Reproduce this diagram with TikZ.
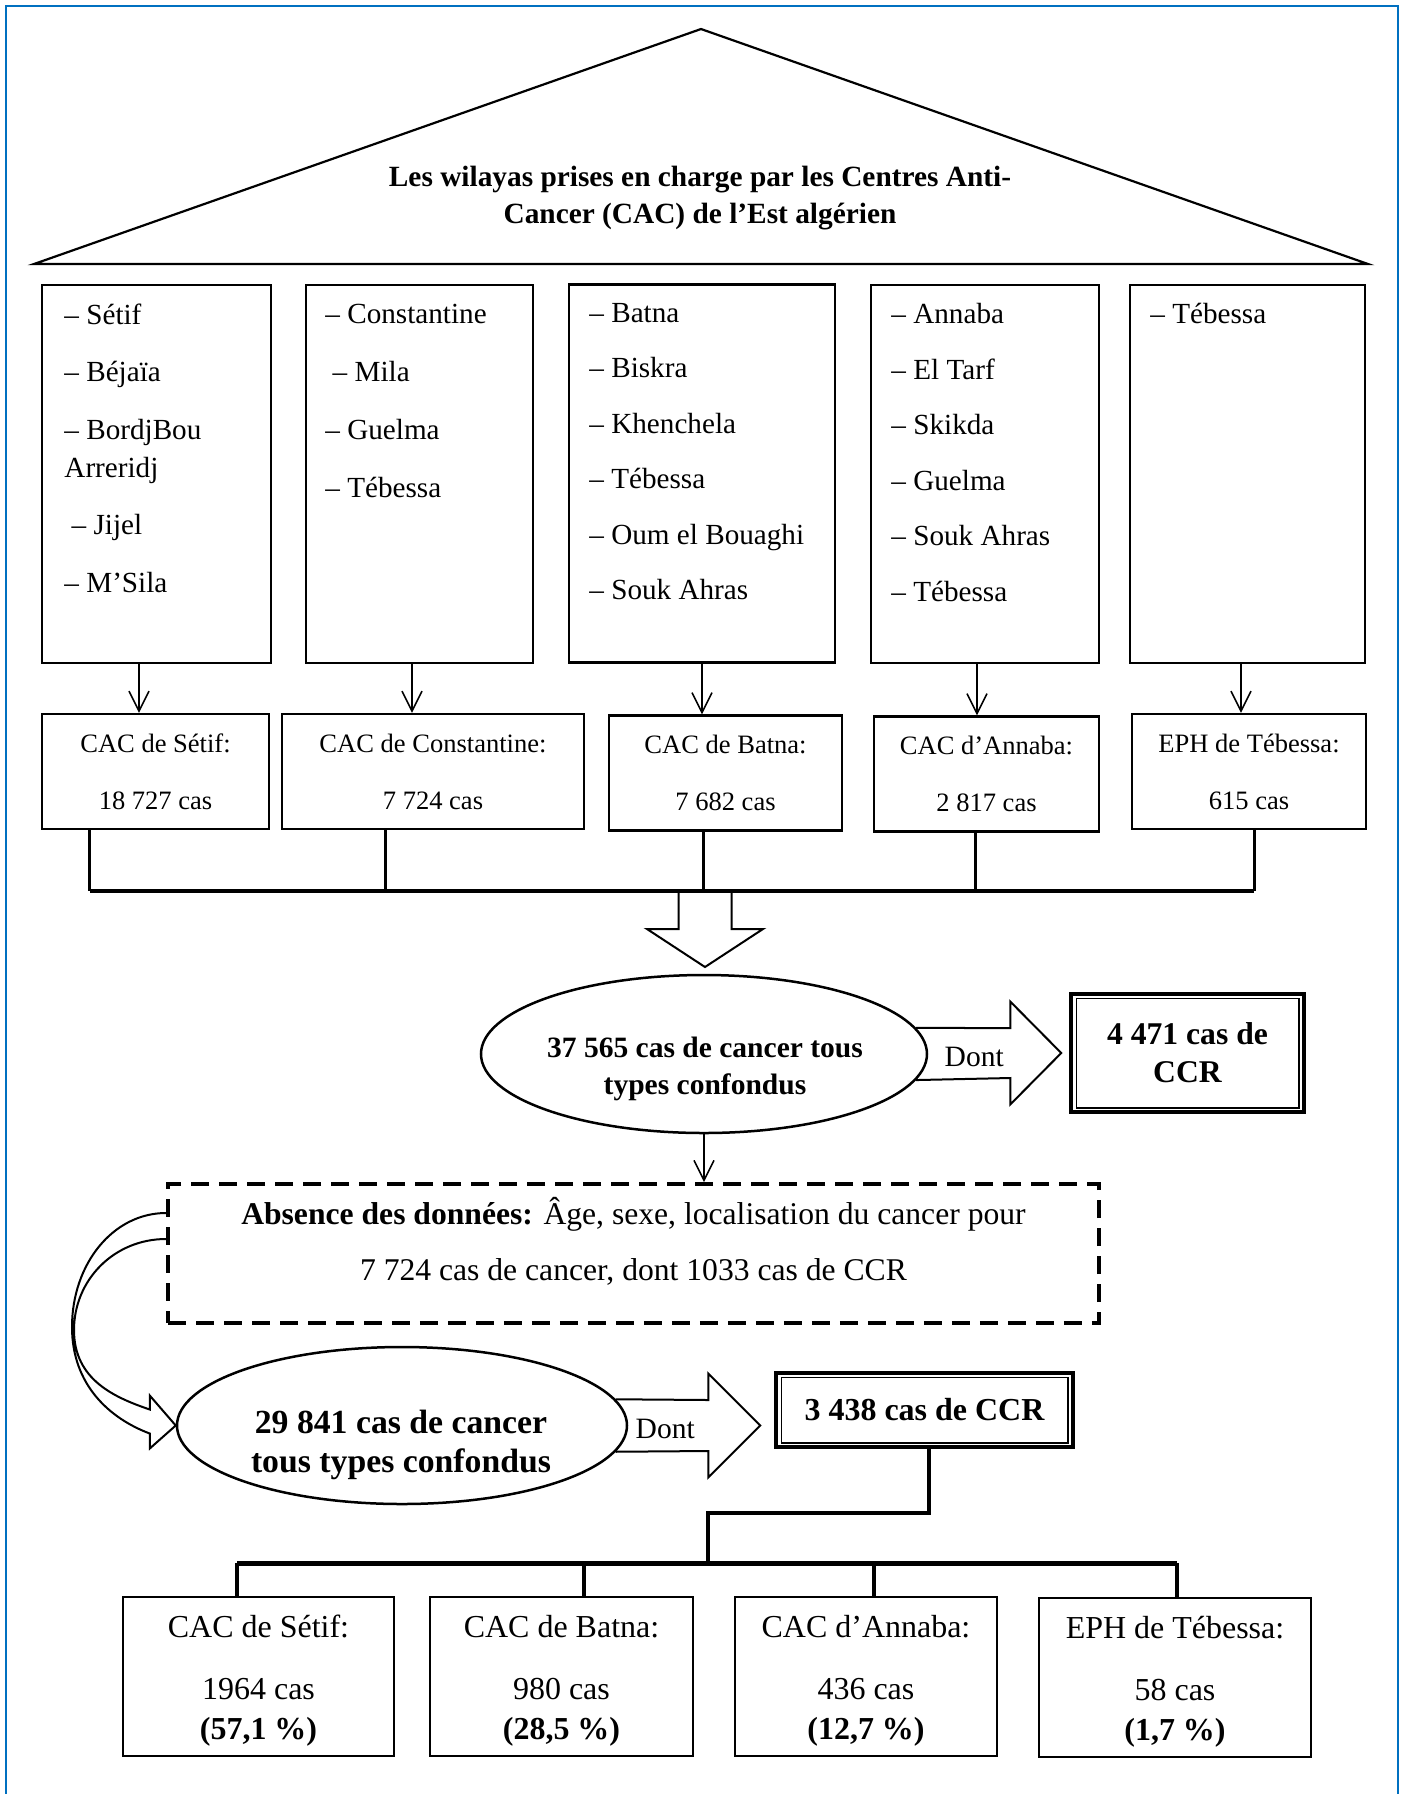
\documentclass[tikz,border=0pt]{standalone}
\usepackage{fontspec}
\setmainfont{Liberation Serif}
\usepackage{xcolor}
\usepackage{tikz}
\usetikzlibrary{positioning, calc, arrows.meta, shapes.geometric}

\definecolor{frameblue}{RGB}{0,112,192}

\begin{document}
\begin{tikzpicture}[x=1cm, y=1cm, >={Straight Barb[length=2mm, width=2mm]}]

    % Custom styles for the boxes, ovals and block arrows
    \tikzset{
        listbox/.style={draw, line width=0.025cm, minimum height=3.78cm, inner sep=0pt},
        listtxt/.style={anchor=north west, align=left, inner sep=0pt, font=\fontsize{8.3}{10.8}\selectfont},
        cacbox/.style={draw, line width=0.025cm, minimum height=1.15cm, inner sep=0pt, align=center, font=\fontsize{7.55}{16.2}\selectfont},
        oval/.style={draw, ellipse, line width=0.025cm, inner sep=0pt},
        ovaltxt/.style={align=center, inner sep=0pt},
        ccrbox/.style={draw, line width=0.035cm, inner sep=0pt, align=center},
        resbox/.style={draw, line width=0.025cm, minimum height=1.59cm, inner sep=0pt, align=center, font=\fontsize{9.1}{11.4}\selectfont},
        hollow/.style={draw, line width=0.02cm, line join=miter},
        thinarrow/.style={->, line width=0.015cm},
        stem/.style={line width=0.03cm},
        bus/.style={line width=0.045cm},
        dontlbl/.style={font=\fontsize{8.4}{10}\selectfont, inner sep=0pt}
    }

    \useasboundingbox (0,0) rectangle (14.05,-17.94);

    % ==========================================
    % Frame and roof
    % ==========================================
    \draw[frameblue, line width=0.028cm] (0.06,-17.94) -- (0.06,-0.06) -- (13.98,-0.06) -- (13.98,-17.94);
    \draw[line width=0.022cm, line join=miter] (0.34,-2.64) -- (7.01,-0.29) -- (13.68,-2.64) -- cycle;
    \node[align=center, font=\bfseries\fontsize{8.35}{10.5}\selectfont] (title) at (7.0,-1.98)
        {Les wilayas prises en charge par les Centres Anti-\\Cancer (CAC) de l’Est algérien};

    % ==========================================
    % Wilayas per centre
    % ==========================================
    \node[listbox, minimum width=2.29cm] (w1) at (1.565,-4.74) {};
    \node[listbox, minimum width=2.27cm] (w2) at (4.195,-4.74) {};
    \node[listbox, minimum width=2.66cm] (w3) at (7.02,-4.735) {};
    \node[listbox, minimum width=2.28cm] (w4) at (9.85,-4.74) {};
    \node[listbox, minimum width=2.35cm] (w5) at (12.475,-4.74) {};

    \node[listtxt] (l1) at ($(w1.north west)+(0.23,-0.19)$)
        {– Sétif\\[5.6pt] – Béjaïa\\[5.6pt] – BordjBou\\Arreridj\\[5.6pt] \ – Jijel\\[5.6pt] – M’Sila};
    \node[listtxt] (l2) at ($(w2.north west)+(0.20,-0.20)$)
        {– Constantine\\[5.7pt] \ – Mila\\[5.7pt] – Guelma\\[5.7pt] – Tébessa};
    \node[listtxt] (l3) at ($(w3.north west)+(0.21,-0.19)$)
        {– Batna\\[5pt] – Biskra\\[5pt] – Khenchela\\[5pt] – Tébessa\\[5pt] – Oum el Bouaghi\\[5pt] – Souk Ahras};
    \node[listtxt] (l4) at ($(w4.north west)+(0.21,-0.19)$)
        {– Annaba\\[5pt] – El Tarf\\[5pt] – Skikda\\[5pt] – Guelma\\[5pt] – Souk Ahras\\[5pt] – Tébessa};
    \node[listtxt] (l5) at ($(w5.north west)+(0.21,-0.19)$) {– Tébessa};

    % ==========================================
    % Centres and their cases
    % ==========================================
    \node[cacbox, minimum width=2.27cm] (c1) at (1.555,-7.715) {CAC de Sétif:\\18 727 cas};
    \node[cacbox, minimum width=3.02cm] (c2) at (4.33,-7.715) {CAC de Constantine:\\7 724 cas};
    \node[cacbox, minimum width=2.33cm] (c3) at (7.255,-7.73) {CAC de Batna:\\7 682 cas};
    \node[cacbox, minimum width=2.25cm] (c4) at (9.865,-7.74) {CAC d’Annaba:\\2 817 cas};
    \node[cacbox, minimum width=2.34cm] (c5) at (12.49,-7.715) {EPH de Tébessa:\\615 cas};

    \draw[thinarrow] ($(w1.south)+(-0.175,0)$) -- ($(w1.south |- c1.north)+(-0.175,0)$);
    \draw[thinarrow] ($(w2.south)+(-0.075,0)$) -- ($(w2.south |- c2.north)+(-0.075,0)$);
    \draw[thinarrow] (w3.south) -- (w3.south |- c3.north);
    \draw[thinarrow] ($(w4.south)+(-0.08,0)$) -- ($(w4.south |- c4.north)+(-0.08,0)$);
    \draw[thinarrow] ($(w5.south)+(-0.065,0)$) -- ($(w5.south |- c5.north)+(-0.065,0)$);

    % Collecting bus
    \coordinate (b1) at (0.90,-8.91);
    \coordinate (b2) at (3.85,-8.91);
    \coordinate (b3) at (7.03,-8.91);
    \coordinate (b4) at (9.75,-8.91);
    \coordinate (b5) at (12.54,-8.91);
    \draw[stem] (b1 |- c1.south) -- (b1);
    \draw[stem] (b2 |- c2.south) -- (b2);
    \draw[stem] (b3 |- c3.south) -- (b3);
    \draw[stem] (b4 |- c4.south) -- (b4);
    \draw[stem] (b5 |- c5.south) -- (b5);
    \draw[bus] (b1) -- (b5);

    % Big block arrow down
    \coordinate (dn) at (7.05,-8.91);
    \draw[hollow] ($(dn)+(-0.265,0)$) -- ++(0,-0.38) -- ++(-0.315,0) -- ++(0.58,-0.38)
        -- ++(0.58,0.38) -- ++(-0.315,0) -- ++(0,0.38);

    % ==========================================
    % All cancers and CCR
    % ==========================================
    \node[oval, minimum width=4.46cm, minimum height=1.58cm] (e1) at (7.04,-10.54) {};
    \node[ovaltxt, font=\bfseries\fontsize{8.4}{10.5}\selectfont] (e1txt) at (7.05,-10.685)
        {37 565 cas de cancer tous\\types confondus};

    \node[ccrbox, minimum width=2.33cm, minimum height=1.18cm, font=\bfseries\fontsize{9}{10.8}\selectfont] (ccr1) at (11.875,-10.53)
        {4 471 cas de\\CCR};
    \draw[line width=0.015cm] ($(ccr1.north west)+(0.07,-0.06)$) rectangle ($(ccr1.south east)+(-0.07,0.06)$);

    \coordinate (t1) at ($(ccr1.west)+(-0.08,0)$);
    \draw[hollow] (e1.7) -- ($(t1)+(-0.51,0.25)$) -- ++(0,0.265) -- (t1)
        -- ($(t1)+(-0.51,-0.515)$) -- ++(0,0.265) -- (e1.-7);
    \node[dontlbl] (dont1) at ($(t1)+(-0.87,-0.04)$) {Dont};

    % Missing data
    \node[draw, line width=0.04cm, dash pattern=on 0.18cm off 0.1cm, minimum width=9.31cm, minimum height=1.39cm] (absent) at (6.335,-12.535) {};
    \node[align=center, inner sep=0pt, font=\fontsize{9}{15.9}\selectfont] (absenttxt) at ($(absent.center)+(0,0.12)$)
        {\textbf{Absence des données:} Âge, sexe, localisation du cancer pour\\7 724 cas de cancer, dont 1033 cas de CCR};
    \draw[thinarrow] (e1.south) -- (e1.south |- absent.north);

    % ==========================================
    % Remaining cases
    % ==========================================
    \node[oval, minimum width=4.5cm, minimum height=1.57cm] (e2) at (4.02,-14.255) {};
    \node[ovaltxt, font=\bfseries\fontsize{9.6}{11.1}\selectfont] (e2txt) at (4.01,-14.445)
        {29 841 cas de cancer\\tous types confondus};

    % Curved block arrow from the missing data to the remaining cases
    \coordinate (bend) at (0.72,-13.27);
    \coordinate (bend2) at (0.74,-13.30);
    \draw[hollow] ($(absent.west)+(0,0.405)$) .. controls +(-0.53,0) and +(0,0.63) .. (bend)
        .. controls +(0,-0.58) and +(-0.4,0.15) .. ($(e2.west)+(-0.26,-0.08)$)
        -- ++(0,-0.15) -- (e2.west) -- ($(e2.west)+(-0.26,0.30)$) -- ++(0,-0.14)
        .. controls +(-0.35,0.12) and +(0,-0.5) .. (bend2)
        .. controls +(0,0.5) and +(-0.52,0) .. ($(absent.west)+(0,0.145)$);

    \node[ccrbox, minimum width=2.97cm, minimum height=0.74cm, font=\bfseries\fontsize{9.1}{10.8}\selectfont] (ccr2) at (9.245,-14.10)
        {3 438 cas de CCR};
    \draw[line width=0.015cm] ($(ccr2.north west)+(0.07,-0.06)$) rectangle ($(ccr2.south east)+(-0.07,0.06)$);

    \coordinate (t2) at ($(e2.center -| ccr2.west)+(-0.14,0)$);
    \draw[hollow] (e2.7) -- ($(t2)+(-0.52,0.255)$) -- ++(0,0.265) -- (t2)
        -- ($(t2)+(-0.52,-0.52)$) -- ++(0,0.265) -- (e2.-7);
    \node[dontlbl] (dont2) at ($(t2)+(-0.95,-0.03)$) {Dont};

    % ==========================================
    % Split of the CCR cases
    % ==========================================
    \node[resbox, minimum width=2.71cm] (r1) at (2.585,-16.765) {\rule{0pt}{9pt}CAC de Sétif:\\[6.2pt]1964 cas\\\textbf{(57,1 \%)}};
    \node[resbox, minimum width=2.63cm] (r2) at (5.615,-16.765) {\rule{0pt}{9pt}CAC de Batna:\\[6.2pt]980 cas\\\textbf{(28,5 \%)}};
    \node[resbox, minimum width=2.62cm] (r3) at (8.66,-16.765) {\rule{0pt}{9pt}CAC d’Annaba:\\[6.2pt]436 cas\\\textbf{(12,7 \%)}};
    \node[resbox, minimum width=2.72cm] (r4) at (11.75,-16.775) {\rule{0pt}{9pt}EPH de Tébessa:\\[6.2pt]58 cas\\\textbf{(1,7 \%)}};

    \coordinate (j1) at (9.29,-15.13);
    \coordinate (j2) at (7.08,-15.13);
    \coordinate (j3) at (7.08,-15.63);
    \draw[line width=0.045cm, line join=miter] (j1 |- ccr2.south) -- (j1) -- (j2) -- (j3);

    \coordinate (m1) at (2.37,-15.63);
    \coordinate (m2) at (5.84,-15.63);
    \coordinate (m3) at (8.74,-15.63);
    \coordinate (m4) at (11.77,-15.63);
    \draw[line width=0.05cm] (m1) -- (m4);
    \draw[line width=0.04cm] (m1) -- (m1 |- r1.north);
    \draw[line width=0.04cm] (m2) -- (m2 |- r2.north);
    \draw[line width=0.04cm] (m3) -- (m3 |- r3.north);
    \draw[line width=0.04cm] (m4) -- (m4 |- r4.north);

\end{tikzpicture}
\end{document}
